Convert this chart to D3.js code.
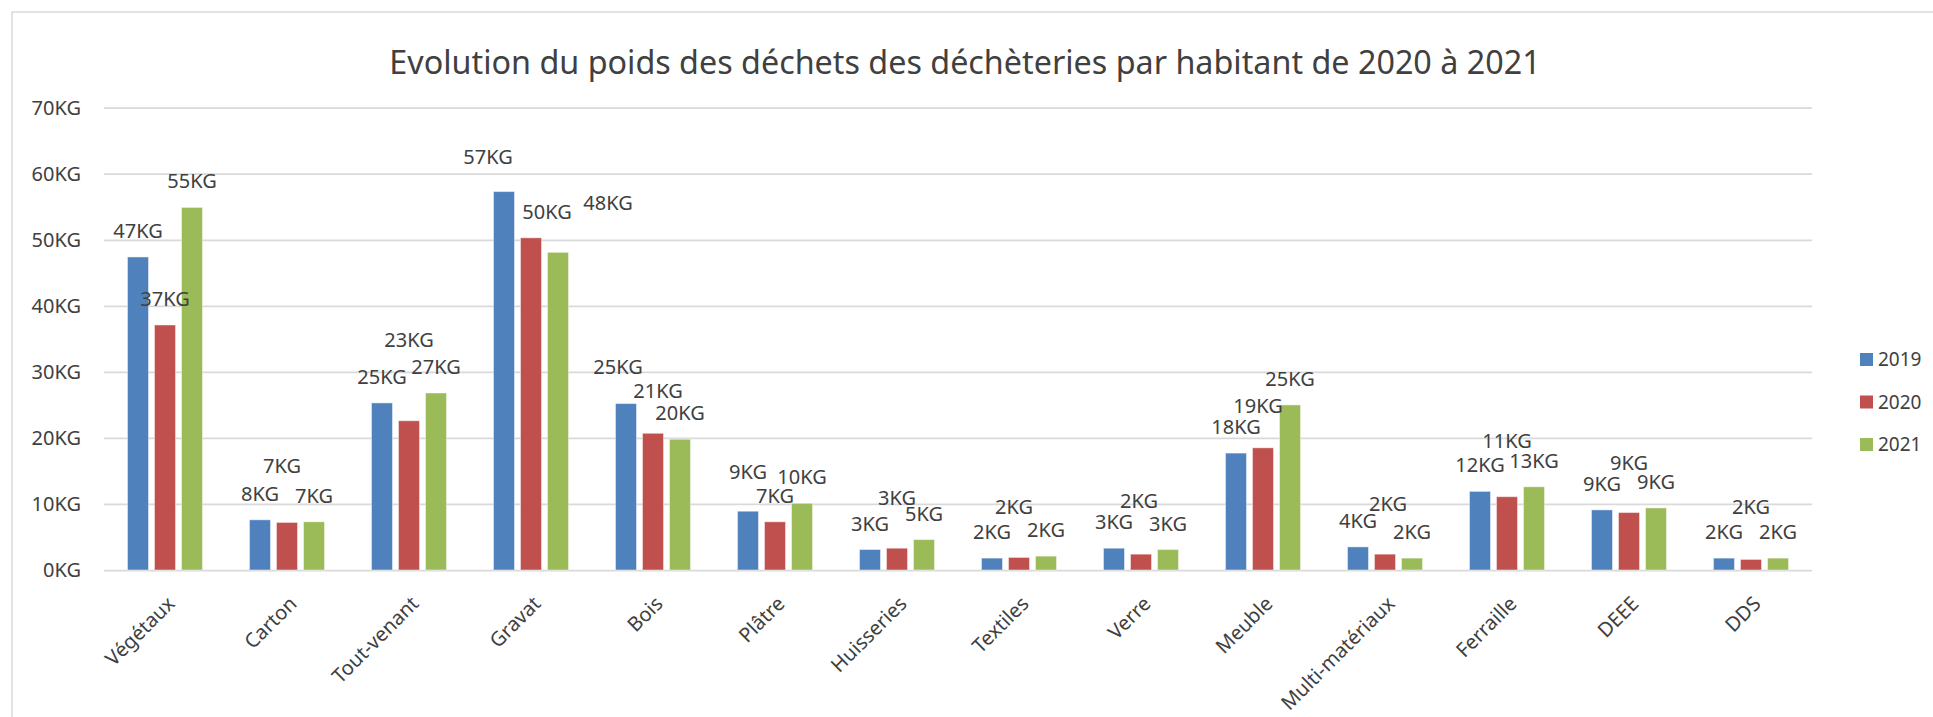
<!DOCTYPE html>
<html>
<head>
<meta charset="utf-8">
<style>
  body { margin: 0; background: #fff; }
  svg text { font-family: "Noto Sans", "Open Sans", sans-serif; fill: #404040; }
  .grid line { stroke: #d9d9d9; stroke-width: 1.75; }
  .grid text { font-size: 20px; }
  .val { font-size: 20px; text-anchor: middle; }
  .cat { font-size: 20px; text-anchor: end; }
  .title { font-size: 32.3px; text-anchor: middle; }
</style>
<script src="https://cdn.jsdelivr.net/npm/d3@7/dist/d3.min.js"></script>
</head>
<body>
<script>
// données (kg par habitant)
var categories = ["Végétaux", "Carton", "Tout-venant", "Gravat", "Bois", "Plâtre", "Huisseries",
                  "Textiles", "Verre", "Meuble", "Multi-matériaux", "Ferraille", "DEEE", "DDS"];
var series = ["2019", "2020", "2021"];
var values2019 = [47.4, 7.6, 25.3, 57.3, 25.2, 8.9, 3.1, 1.8, 3.3, 17.7, 3.5, 11.9, 9.1, 1.8];
var values2020 = [37.1, 7.2, 22.6, 50.3, 20.7, 7.3, 3.3, 1.9, 2.4, 18.5, 2.4, 11.1, 8.7, 1.6];
var values2021 = [54.9, 7.3, 26.8, 48.1, 19.8, 10.1, 4.6, 2.1, 3.1, 25.0, 1.8, 12.6, 9.4, 1.8];
var yTicks = [0, 10, 20, 30, 40, 50, 60, 70];
var colors = ["#4f81bd", "#c0504d", "#9bbb59"];

// décalages manuels des étiquettes (comme déplacées à la main dans le tableur)
var nudgeX = [
  [0, 0, 0, -16, -8, 0, 0, 0, 0, 0, 0, 0, 0, 0],
  [0, -5, 0, 16, 5, 0, 0, -5, -2, -5, 3, 0, 0, 0],
  [0, 0, 0, 50, 0, 0, 0, 0, 0, 0, 0, 0, 0, 0]
];
var nudgeY = [
  [0, 0, 0, -9, -11, -13, 0, 0, 0, 0, 0, 0, 0, 0],
  [0, -30, -55, 0, -16, 0, -24, -24, -27, -16, -24, -30, -24, -26],
  [0, 0, 0, -23, 0, 0, 0, 0, 0, 0, 0, 0, 0, 0]
];

var allValues = [values2019, values2020, values2021];
var width = 1933, height = 717;
var plotLeft = 104, plotRight = 1812, plotTop = 107.7, plotBottom = 570;

var svg = d3.select("body").append("svg")
    .attr("width", width)
    .attr("height", height);

// cadre du graphique
svg.append("rect")
    .attr("x", 12).attr("y", 12)
    .attr("width", width).attr("height", height)
    .attr("fill", "none")
    .attr("stroke", "#d9d9d9")
    .attr("stroke-width", 1.5);

svg.append("text")
    .attr("class", "title")
    .attr("x", 965).attr("y", 74)
    .text("Evolution du poids des déchets des déchèteries par habitant de 2020 à 2021");

var y = d3.scaleLinear().domain([0, 70]).range([plotBottom, plotTop]);
var x0 = d3.scaleBand().domain(categories).range([plotLeft, plotRight])
    .paddingInner(0.385).paddingOuter(0.1925);
var x1 = d3.scaleBand().domain(series).range([0, x0.bandwidth()]).paddingInner(0.222);

var yAxis = svg.append("g")
    .attr("class", "grid")
    .attr("transform", "translate(" + plotLeft + ",0)")
    .call(d3.axisLeft(y).tickValues(yTicks).tickSize(-(plotRight - plotLeft)).tickPadding(23)
      .tickFormat(function(d) { return d + "KG"; }));
yAxis.select(".domain").remove();

var rows = categories.map(function(c, i) {
  return { cat: c, vals: series.map(function(s, j) {
    return { s: s, j: j, i: i, v: allValues[j][i] };
  }) };
});

var groups = svg.selectAll(".grp")
    .data(rows)
    .enter()
    .append("g")
    .attr("class", "grp")
    .attr("transform", function(d) { return "translate(" + x0(d.cat) + ",0)"; });

groups.selectAll("rect")
    .data(function(d) { return d.vals; })
    .enter()
    .append("rect")
    .attr("x", function(d) { return x1(d.s); })
    .attr("y", function(d) { return y(d.v); })
    .attr("width", x1.bandwidth())
    .attr("height", function(d) { return y(0) - y(d.v); })
    .attr("fill", function(d) { return colors[d.j]; })
    .attr("stroke", "#ffffff")
    .attr("stroke-opacity", 0.45)
    .attr("stroke-width", 1);

groups.selectAll(".val")
    .data(function(d) { return d.vals; })
    .enter()
    .append("text")
    .attr("class", "val")
    .attr("x", function(d) { return x1(d.s) + x1.bandwidth() / 2 + nudgeX[d.j][d.i]; })
    .attr("y", function(d) { return y(d.v) - 19 + nudgeY[d.j][d.i]; })
    .text(function(d) { return d3.format(".0f")(d.v) + "KG"; });

// étiquettes de catégories inclinées
svg.selectAll(".cat")
    .data(categories)
    .enter()
    .append("text")
    .attr("class", "cat")
    .attr("transform", function(d) {
      return "translate(" + (x0(d) + x0.bandwidth() / 2 + 6) + ",600) rotate(-45)";
    })
    .attr("dy", "0.35em")
    .text(function(d) { return d; });

// légende
var legend = svg.selectAll(".leg")
    .data(series)
    .enter()
    .append("g")
    .attr("class", "leg")
    .attr("transform", function(d, i) { return "translate(1860," + (353 + i * 42.5) + ")"; });
legend.append("rect")
    .attr("width", 13).attr("height", 13)
    .attr("fill", function(d, i) { return colors[i]; });
legend.append("text")
    .attr("x", 18).attr("y", 13)
    .style("font-size", "19px")
    .text(function(d) { return d; });
</script>
</body>
</html>
